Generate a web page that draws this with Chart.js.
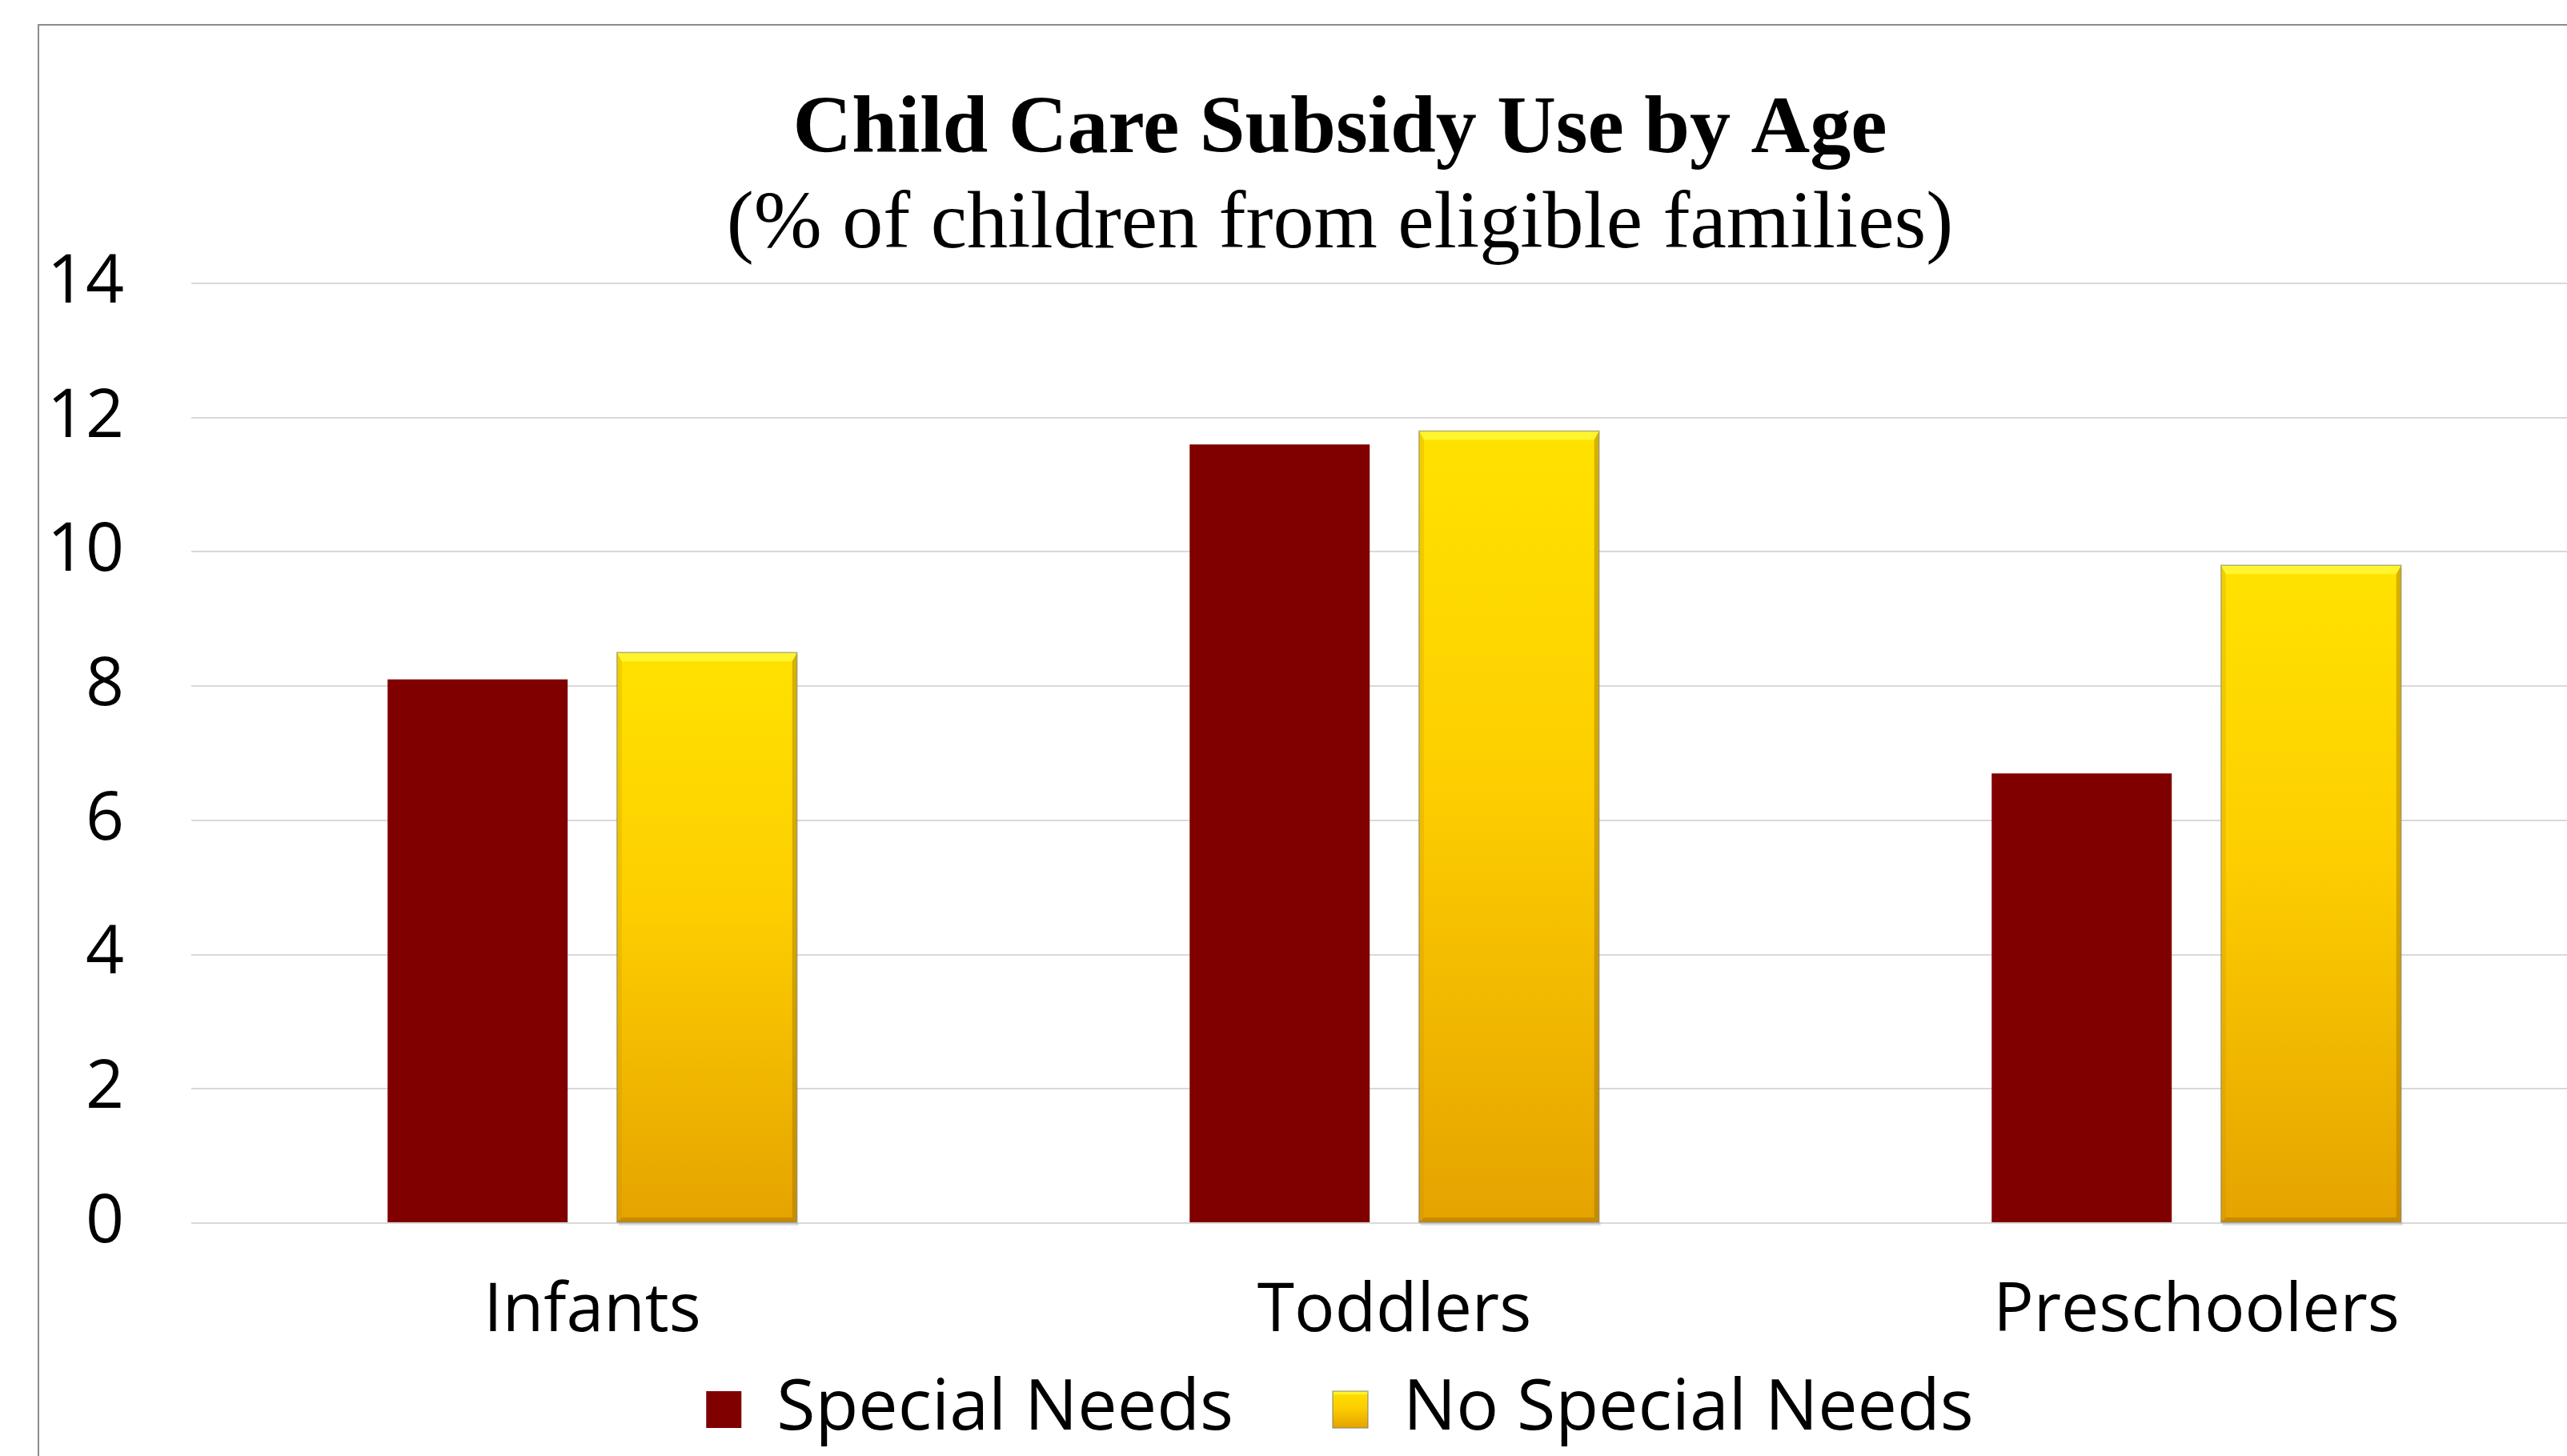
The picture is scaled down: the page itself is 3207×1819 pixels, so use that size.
<!DOCTYPE html>
<html><head><meta charset="utf-8">
<script src="https://cdn.jsdelivr.net/npm/chart.js@4.4.0/dist/chart.umd.min.js"></script>
<style>
html,body{margin:0;padding:0;background:#fff;overflow:hidden;width:3207px;height:1819px;}
#frame{position:absolute;left:47px;top:30px;width:3400px;height:1900px;border-top:2px solid #8c8c8c;border-left:2px solid #8c8c8c;}
#c{position:absolute;left:0;top:0;}
</style></head><body>
<div id="frame"><canvas id="c" width="3250" height="1783" style="width:3250px;height:1783px"></canvas></div>
<script>
const categories = ['Infants', 'Toddlers', 'Preschoolers'];
const seriesNames = ['Special Needs', 'No Special Needs'];
const specialNeeds = [8.1, 11.6, 6.7];
const noSpecialNeeds = [8.5, 11.8, 9.8];
const yTicks = [0, 2, 4, 6, 8, 10, 12, 14];
const titleText = 'Child Care Subsidy Use by Age';
const subtitleText = '(% of children from eligible families)';

const sansFont = '"Open Sans", "Noto Sans", sans-serif';
const serifFont = '"Liberation Serif", "Times New Roman", serif';

function goldGradient(ctx, top, bottom) {
  const g = ctx.createLinearGradient(0, top, 0, bottom);
  g.addColorStop(0, '#FFE200');
  g.addColorStop(0.45, '#FDCE00');
  g.addColorStop(1, '#E5A300');
  return g;
}

function yellowFill(context) {
  const chart = context.chart;
  if (context.type !== 'data' || !chart.chartArea || !chart.scales.y) return '#F9C600';
  const ys = chart.scales.y;
  const top = ys.getPixelForValue(context.parsed.y);
  const bot = ys.getPixelForValue(0);
  return goldGradient(chart.ctx, top, bot);
}

const bevelPlugin = {
  id: 'bevel',
  afterDatasetsDraw(chart) {
    const ctx = chart.ctx;
    const meta = chart.getDatasetMeta(1);
    meta.data.forEach(el => {
      const p = el.getProps(['x', 'y', 'width', 'base'], true);
      const l = p.x - p.width / 2, r = p.x + p.width / 2, t = p.y, b = p.base;
      const bt = 11, bs = 6;
      ctx.save();
      ctx.fillStyle = '#FFF52E';
      ctx.beginPath(); ctx.moveTo(l, t); ctx.lineTo(r, t); ctx.lineTo(r - bs, t + bt); ctx.lineTo(l + bs, t + bt); ctx.closePath(); ctx.fill();
      ctx.fillStyle = 'rgba(150,105,0,0.40)';
      ctx.beginPath(); ctx.moveTo(r, t); ctx.lineTo(r, b); ctx.lineTo(r - bs, b - bs); ctx.lineTo(r - bs, t + bt); ctx.closePath(); ctx.fill();
      ctx.fillStyle = 'rgba(190,140,0,0.22)';
      ctx.beginPath(); ctx.moveTo(l, t); ctx.lineTo(l, b); ctx.lineTo(l + bs, b - bs); ctx.lineTo(l + bs, t + bt); ctx.closePath(); ctx.fill();
      ctx.fillStyle = 'rgba(140,95,0,0.35)';
      ctx.beginPath(); ctx.moveTo(l, b); ctx.lineTo(r, b); ctx.lineTo(r - bs, b - bs); ctx.lineTo(l + bs, b - bs); ctx.closePath(); ctx.fill();
      ctx.strokeStyle = 'rgba(120,120,120,0.55)';
      ctx.lineWidth = 1.5;
      ctx.strokeRect(l, t, r - l, b - t);
      ctx.fillStyle = 'rgba(0,0,0,0.12)';
      ctx.fillRect(l + 2, b + 1, r - l, 3);
      ctx.restore();
    });
  },
  afterDraw(chart) {
    const ctx = chart.ctx;
    const lg = chart.legend;
    if (lg && lg.legendHitBoxes && lg.legendItems) {
      const idx = lg.legendItems.findIndex(it => it.datasetIndex === 1);
      const hb = lg.legendHitBoxes[idx];
      if (!hb) return;
      const opts = lg.options.labels;
      const fs = opts.font.size;
      const bw = opts.boxWidth, bh = opts.boxHeight;
      const x = hb.left, y = hb.top + Math.max((fs - bh) / 2, 0);
      ctx.save();
      ctx.fillStyle = goldGradient(ctx, y, y + bh);
      ctx.fillRect(x, y, bw, bh);
      ctx.fillStyle = '#FFF52E';
      ctx.fillRect(x, y, bw, 4);
      ctx.strokeStyle = 'rgba(120,120,120,0.6)';
      ctx.lineWidth = 1.5;
      ctx.strokeRect(x, y, bw, bh);
      ctx.restore();
    }
  }
};

new Chart(document.getElementById('c'), {
  type: 'bar',
  data: {
    labels: categories,
    datasets: [
      { label: seriesNames[0], data: specialNeeds, backgroundColor: '#800000', borderWidth: 0,
        categoryPercentage: 0.572, barPercentage: 0.785 },
      { label: seriesNames[1], data: noSpecialNeeds, backgroundColor: yellowFill, borderWidth: 0,
        categoryPercentage: 0.572, barPercentage: 0.785 }
    ]
  },
  options: {
    responsive: false,
    animation: false,
    devicePixelRatio: 1,
    layout: { padding: 0 },
    plugins: {
      title: { display: true, text: titleText, color: '#000',
        font: { family: serifFont, size: 102, weight: 'bold', lineHeight: 1 },
        padding: { top: 81, bottom: 16 } },
      subtitle: { display: true, text: subtitleText, color: '#000',
        font: { family: serifFont, size: 102, weight: 'normal', lineHeight: 1 },
        padding: { top: 0, bottom: 21 } },
      legend: { position: 'bottom',
        labels: {
          font: { family: sansFont, size: 88 }, color: '#000', boxWidth: 44, boxHeight: 46, padding: 18,
          generateLabels(chart) {
            const items = Chart.defaults.plugins.legend.labels.generateLabels(chart);
            const spacer = { text: '', fillStyle: 'rgba(0,0,0,0)', strokeStyle: 'rgba(0,0,0,0)', lineWidth: 0,
              hidden: false, datasetIndex: -1 };
            return [items[0], spacer, items[1]];
          }
        } },
      tooltip: { enabled: false }
    },
    scales: {
      x: {
        grid: { display: false, drawTicks: false },
        border: { display: false },
        ticks: { font: { family: sansFont, size: 84 }, color: '#000', padding: 61 },
        afterFit: s => { s.height = 171; }
      },
      y: {
        min: 0, max: 14,
        afterBuildTicks: s => { s.ticks = yTicks.map(v => ({ value: v })); },
        grid: { color: '#d9d9d9', lineWidth: 2, drawTicks: false },
        border: { display: false },
        ticks: { font: { family: sansFont, size: 84 }, color: '#000', padding: 84 },
        afterFit: s => { s.width = 190; }
      },
      y2: {
        position: 'right',
        grid: { display: false, drawTicks: false },
        border: { display: false },
        ticks: { display: false },
        afterFit: s => { s.width = 54; }
      }
    }
  },
  plugins: [bevelPlugin]
});
</script>
</body></html>
